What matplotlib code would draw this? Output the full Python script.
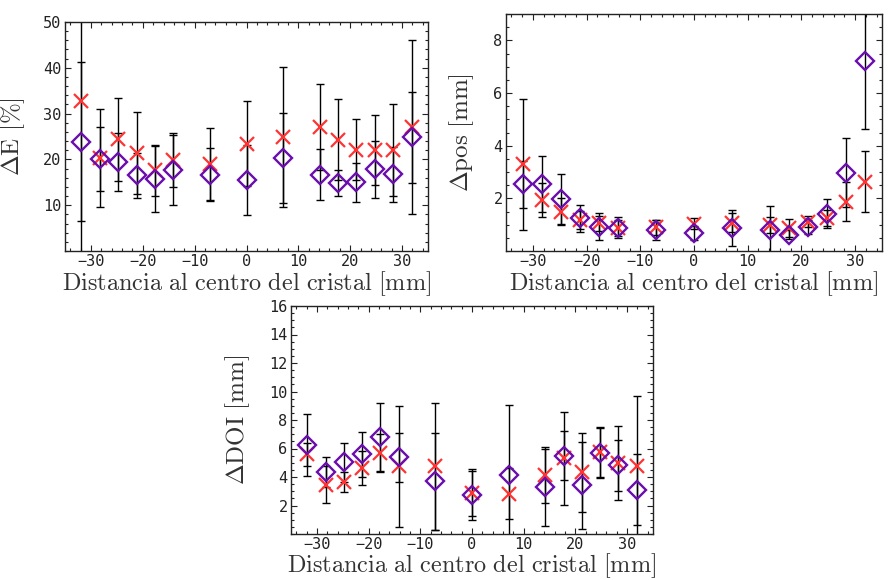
import matplotlib
matplotlib.use("Agg")
import matplotlib.pyplot as plt
from matplotlib.ticker import MultipleLocator, FixedLocator

plt.rcParams["mathtext.fontset"] = "cm"

# Crystal positions (mm from the crystal centre)
x_pos = [-31.9, -28.3, -24.8, -21.2, -17.7, -14.2, -7.1, 0.0, 7.1,
         14.2, 17.7, 21.2, 24.8, 28.3, 31.9]

# Energy resolution [%]
dE_cross = [32.8, 20.2, 24.4, 21.4, 17.6, 19.9, 19.0, 23.4, 24.9,
            27.05, 24.3, 22.1, 22.1, 22.1, 27.1]
dE_cross_err = [34.0, 10.7, 9.1, 9.0, 5.6, 5.9, 7.8, 9.3, 15.3,
                9.45, 8.9, 6.7, 7.6, 10.0, 19.05]
dE_diam = [23.9, 20.05, 19.4, 16.5, 15.7, 17.7, 16.7, 15.5, 20.35,
           16.7, 14.9, 15.0, 17.8, 16.8, 24.8]
dE_diam_err = [17.3, 7.05, 6.4, 5.0, 7.2, 7.6, 5.75, 7.6, 9.8,
               5.5, 2.8, 4.2, 6.3, 6.0, 9.95]

# Position resolution [mm]
dpos_cross = [3.30, 1.94, 1.50, 1.18, 1.05, 0.87, 0.90, 1.03, 1.08,
              0.99, 0.87, 1.12, 1.24, 1.87, 2.63]
dpos_cross_err = [2.49, 0.66, 0.50, 0.35, 0.28, 0.30, 0.28, 0.21, 0.35,
                  0.30, 0.34, 0.21, 0.30, 0.74, 1.15]
dpos_diam = [2.53, 2.55, 1.97, 1.24, 0.93, 0.89, 0.80, 0.68, 0.87,
             0.80, 0.62, 0.90, 1.41, 2.98, 7.20]
dpos_diam_err = [0.90, 1.07, 0.95, 0.50, 0.52, 0.40, 0.37, 0.26, 0.68,
                 0.92, 0.17, 0.26, 0.55, 1.32, 2.55]

# Depth-of-interaction resolution [mm]
ddoi_cross = [5.60, 3.45, 3.64, 4.62, 5.67, 4.74, 4.74, 2.88, 2.83,
              4.15, 5.32, 4.32, 5.78, 4.97, 4.78]
ddoi_cross_err = [0.80, 1.30, 0.69, 1.17, 1.33, 4.22, 4.46, 1.65, 1.77,
                  1.96, 3.26, 2.78, 1.75, 2.59, 4.92]
ddoi_diam = [6.25, 4.34, 5.04, 5.60, 6.79, 5.37, 3.69, 2.71, 4.11,
             3.27, 5.50, 3.41, 5.71, 4.81, 3.11]
ddoi_diam_err = [2.15, 1.05, 1.37, 1.58, 2.38, 1.72, 3.40, 1.70, 4.93,
                 2.70, 1.72, 3.06, 1.75, 1.80, 2.51]

x_label = r"$\mathrm{Distancia\ al\ centro\ del\ cristal\ [mm]}$"

panels = [
    # rect (px), ylim, yticks, minor step, ylabel, data, ylabel x (px), xlabel pad
    ([65, 22, 428, 251], (0, 50), [10, 20, 30, 40, 50], 2,
     r"$\Delta\mathrm{E}\ [\%]$",
     dE_cross, dE_cross_err, dE_diam, dE_diam_err, 27, 0),
    ([506, 14, 882, 251], (0, 9), [2, 4, 6, 8], 0.5,
     r"$\Delta\mathrm{pos}\ [\mathrm{mm}]$",
     dpos_cross, dpos_cross_err, dpos_diam, dpos_diam_err, 476, 0),
    ([291, 306, 653, 534], (0, 16), [2, 4, 6, 8, 10, 12, 14, 16], 0.5,
     r"$\Delta\mathrm{DOI}\ [\mathrm{mm}]$",
     ddoi_cross, ddoi_cross_err, ddoi_diam, ddoi_diam_err, 252, -1),
]

W, H = 888, 580
fig = plt.figure(figsize=(W / 100, H / 100), dpi=100)

tick_font = {"family": "DejaVu Sans Mono", "size": 11}

for (rect, ylim, yticks, yminor, ylabel,
     yc, yce, yd, yde, ylab_x, xpad) in panels:
    l, t, r, b = rect
    ax = fig.add_axes([l / W, (H - b) / H, (r - l) / W, (b - t) / H])
    ax.set_xlim(-35, 35)
    ax.set_ylim(*ylim)

    # error bars for both series
    ax.errorbar(x_pos, yc, yerr=yce, fmt="none", ecolor="black",
                elinewidth=1.0, capsize=3.2, capthick=1.0, zorder=2)
    ax.errorbar(x_pos, yd, yerr=yde, fmt="none", ecolor="black",
                elinewidth=1.0, capsize=3.2, capthick=1.0, zorder=2)

    ax.plot(x_pos, yc, linestyle="none", marker="x", markersize=10.5,
            markeredgewidth=1.6, color="#ff3333", zorder=3)
    ax.plot(x_pos, yd, linestyle="none", marker="D", markersize=9.5,
            markeredgewidth=1.7, markerfacecolor="none",
            markeredgecolor="#6a0dad", zorder=4)

    ax.xaxis.set_major_locator(FixedLocator([-30, -20, -10, 0, 10, 20, 30]))
    ax.xaxis.set_minor_locator(MultipleLocator(2))
    ax.yaxis.set_major_locator(FixedLocator(yticks))
    ax.yaxis.set_minor_locator(MultipleLocator(yminor))
    ax.tick_params(which="both", direction="in", top=True, right=True,
                   color="#222222", width=0.8)
    ax.tick_params(which="major", length=4.5, pad=2.5)
    ax.tick_params(which="minor", length=2.2)
    ax.set_xticklabels(["\u221230", "\u221220", "\u221210", "0", "10",
                        "20", "30"], fontdict=tick_font, color="#222222")
    ax.set_yticklabels([str(v) for v in yticks], fontdict=tick_font,
                       color="#222222")
    for s in ax.spines.values():
        s.set_linewidth(1.0)
        s.set_color("#222222")

    ax.set_xlabel(x_label, fontsize=17.5, color="#333333", labelpad=xpad)
    ax.set_ylabel(ylabel, fontsize=18, color="#333333")
    ax.yaxis.set_label_coords((ylab_x - l) / (r - l), 0.5)

fig.savefig("out.png", dpi=100)
